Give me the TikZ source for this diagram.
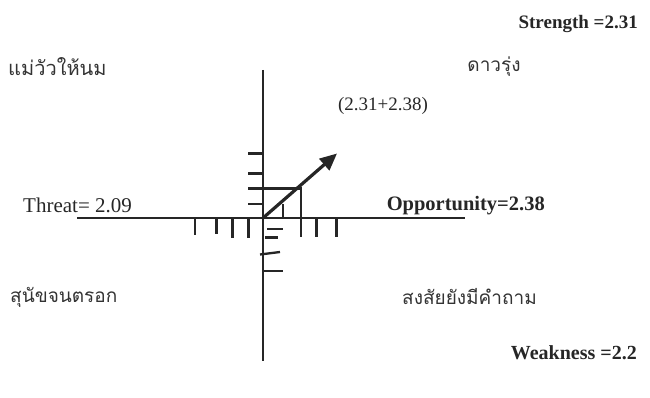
\documentclass[tikz,border=0pt]{standalone}
\usepackage{fontspec}
\setmainfont{Liberation Serif}
\newfontfamily\thaifont[Script=Thai]{Loma}
\usetikzlibrary{arrows.meta}
\begin{document}
\begin{tikzpicture}[x=1pt,y=-1pt,
  axis/.style={line width=2.6pt,draw=black!85},
  tick/.style={line width=2.3pt,draw=black!85},
  lbl/.style={font=\fontsize{19}{22}\selectfont,inner sep=0pt,text=black!85},
  blbl/.style={font=\fontsize{19}{22}\selectfont\bfseries,inner sep=0pt,text=black!85},
  thai/.style={font=\thaifont\fontsize{19}{22}\selectfont,inner sep=0pt,text=black!80},
  vec/.style={line width=3.2pt,draw=black!85,-{Triangle[length=17pt,width=15pt]}}]
\useasboundingbox (0,0) rectangle (650,398);
% axes
\coordinate (O) at (263,218);
\coordinate (top) at (263,70);
\coordinate (bot) at (263,361);
\coordinate (left) at (77,218);
\coordinate (right) at (465,218);
\draw[axis] (top) -- (bot);
\draw[axis] (left) -- (right);
% ticks on horizontal axis (left side, hanging down)
\foreach \x/\y in {195/235, 216.5/234, 232.5/238, 248.5/238}
  \draw[tick] (\x,218) -- (\x,\y);
% ticks on horizontal axis (right side)
\foreach \x in {316.5, 336.5}
  \draw[tick] (\x,218) -- (\x,237);
% ticks on vertical axis (upper, to the left)
\foreach \y in {153.5, 173.5, 204}
  \draw[tick] (248,\y) -- (263,\y);
% rectangle for projection
\coordinate (pc) at (301,188.5);
\draw[tick] (248,188.5) -- (pc) -- (301,237);
\draw[tick] (283,204) -- (283,218);
% ticks below origin (to the right)
\draw[tick] (267,229) -- (283,229);
\draw[tick] (265,237.5) -- (278,237.5);
\draw[tick] (260,254.5) -- (280,252);
\draw[tick] (263,271) -- (283,271);
% vector
\coordinate (tip) at (337,153.5);
\draw[vec] (O) -- (tip);
% labels
\node[blbl,anchor=east] (s) at (638,24) {Strength =2.31};
\node[thai] (star) at (494,67) {ดาวรุ่ง};
\node[thai,anchor=west,font=\thaifont\fontsize{20}{22}\selectfont] (cow) at (8,67) {แม่วัวให้นม};
\node[lbl] (pt) at (383,106) {(2.31+2.38)};
\node[lbl,anchor=west,font=\fontsize{21}{24}\selectfont] (t) at (23,205) {Threat= 2.09};
\node[blbl,anchor=east,font=\fontsize{20.5}{24}\selectfont\bfseries] (o) at (545,206) {Opportunity=2.38};
\node[thai,anchor=west] (dog) at (10,297) {สุนัขจนตรอก};
\node[thai,anchor=west] (q) at (402,297) {สงสัยยังมีคำถาม};
\node[blbl,anchor=east,font=\fontsize{20}{24}\selectfont\bfseries] (w) at (637,353) {Weakness =2.2};
\end{tikzpicture}
\end{document}
